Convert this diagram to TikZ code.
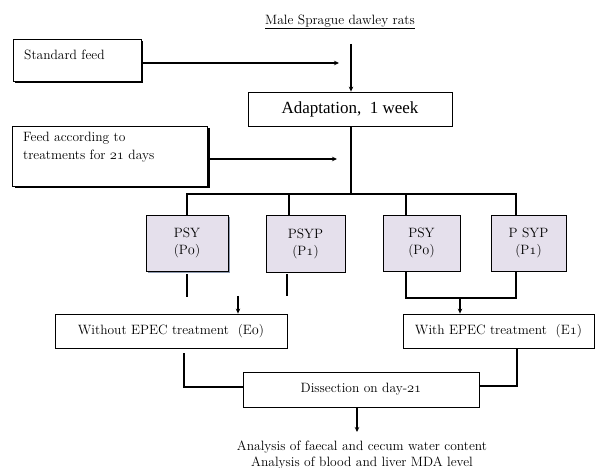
\documentclass[tikz,border=0pt]{standalone}
\usepackage{fontspec}
\newfontfamily\adfont{Liberation Serif}
\usetikzlibrary{arrows.meta,shadows}
\definecolor{lav}{HTML}{E5E0EC}
\definecolor{shd}{HTML}{8E9AB0}
\newcommand\osn[1]{{\usefont{OML}{cmm}{m}{it}#1}}
\begin{document}
\begin{tikzpicture}[x=1pt,y=-1pt,
  every node/.style={font=\fontsize{13.5}{17}\selectfont},
  box/.style={draw, line width=0.8pt, fill=white, inner sep=0pt,
    drop shadow={shadow xshift=1pt, shadow yshift=-1pt, fill=black, opacity=1}},
  bigbox/.style={draw, line width=0.8pt, fill=white, inner sep=0pt,
    drop shadow={shadow xshift=2pt, shadow yshift=-2pt, fill=black, opacity=1}},
  pbox/.style={draw, line width=0.8pt, fill=lav, inner sep=0pt, align=center,
    drop shadow={shadow xshift=1.3pt, shadow yshift=-1.3pt, fill=black, opacity=1}},
  plain/.style={inner sep=0pt},
  thickline/.style={line width=2pt},
  thinline/.style={line width=1.2pt},
  arr/.style={-{Stealth[length=5pt,width=4.5pt]}}]
\useasboundingbox (0,0) rectangle (598,468);

% title
\node[plain] (title) at (340,22) {\underline{Male Sprague dawley rats}};

% boxes
\node[bigbox, minimum width=128pt, minimum height=42pt] (std) at (77,60) {};
\node[plain, anchor=west] (stdt) at (24,55) {Standard feed};
\node[box, minimum width=204pt, minimum height=34pt] (adapt) at (350,109) {\adfont\fontsize{17}{20}\selectfont Adaptation,\ \ 1 week};
\node[bigbox, minimum width=195pt, minimum height=60pt] (feed) at (110,156) {};
\node[plain, anchor=north west, align=left, font=\fontsize{13.5}{18}\selectfont] (feedt) at (23,132) {Feed according to\\treatments for \osn{21} days};

\node[pbox, minimum width=82pt, minimum height=56pt,
  drop shadow={shadow xshift=2pt, shadow yshift=-2pt, fill=shd, opacity=1}] (p1) at (187,243) {PSY\\(P\osn{0})};
\node[pbox, minimum width=79pt, minimum height=57pt] (p2) at (305.5,243.5) {PSYP\\(P\osn{1})};
\node[pbox, minimum width=77pt, minimum height=56pt] (p3) at (421.5,243) {PSY\\(P\osn{0})};
\node[pbox, minimum width=75pt, minimum height=56pt] (p4) at (528.5,243) {P SYP\\(P\osn{1})};

\node[box, minimum width=232pt, minimum height=34pt] (wo) at (171,331) {Without EPEC treatment\ \ (E\osn{0})};
\node[box, minimum width=191pt, minimum height=34pt] (wi) at (498.5,331) {With EPEC treatment\ \ (E\osn{1})};
\node[box, minimum width=236pt, minimum height=35pt] (dis) at (361,389.5) {Dissection on day-\osn{21}};

\node[plain, anchor=north, align=center, font=\fontsize{13.5}{15.5}\selectfont] (ana) at (362,441) {Analysis of faecal and cecum water content\\Analysis of blood and liver MDA level};

% coordinates
\coordinate (ttop) at (351,44);
\coordinate (stdend) at (339,63);
\coordinate (feedend) at (337,159);
\coordinate (split) at (351,194);
\coordinate (b1) at (187,194);
\coordinate (b2) at (289,194);
\coordinate (b3) at (406,194);
\coordinate (b4) at (516,194);
\coordinate (s1) at (187,297);
\coordinate (s2) at (287,296);
\coordinate (a1) at (238,296);
\coordinate (k3) at (406,298);
\coordinate (k4) at (516,298);
\coordinate (a2) at (460,298);
\coordinate (l1) at (184,353);
\coordinate (l2) at (184,387);
\coordinate (r2) at (517,386);
\coordinate (aend) at (357,432);

% connectors
\draw[thinline, arr] (std.east |- stdend) -- (stdend);
\draw[thinline, arr] (feed.east |- feedend) -- (feedend);
\draw[thickline, arr] (ttop) -- (ttop |- adapt.north);
\draw[thickline] (adapt.south -| split) -- (split);
\draw[thickline] (b1 |- p1.north) -- (b1) -- (b4) -- (b4 |- p4.north);
\draw[thickline] (b2) -- (b2 |- p2.north);
\draw[thickline] (b3) -- (b3 |- p3.north);
\draw[thickline] (p1.south -| s1) ++(0,3) -- (s1);
\draw[thickline] (p2.south -| s2) ++(0,2) -- (s2);
\draw[thickline, arr] (a1) -- (a1 |- wo.north);
\draw[thickline] (p3.south -| k3) ++(0,1) -- (k3) -- (k4) -- ([yshift=-1pt]p4.south -| k4);
\draw[thickline, arr] (a2) -- (a2 |- wi.north);
\draw[thickline] (l1) -- (l2) -- (l2 -| dis.west);
\draw[thickline] ([yshift=-1pt]wi.south -| r2) -- (r2) -- (r2 -| dis.east);
\draw[thickline, arr] ([yshift=-1pt]dis.south -| aend) -- (aend);
\end{tikzpicture}
\end{document}
